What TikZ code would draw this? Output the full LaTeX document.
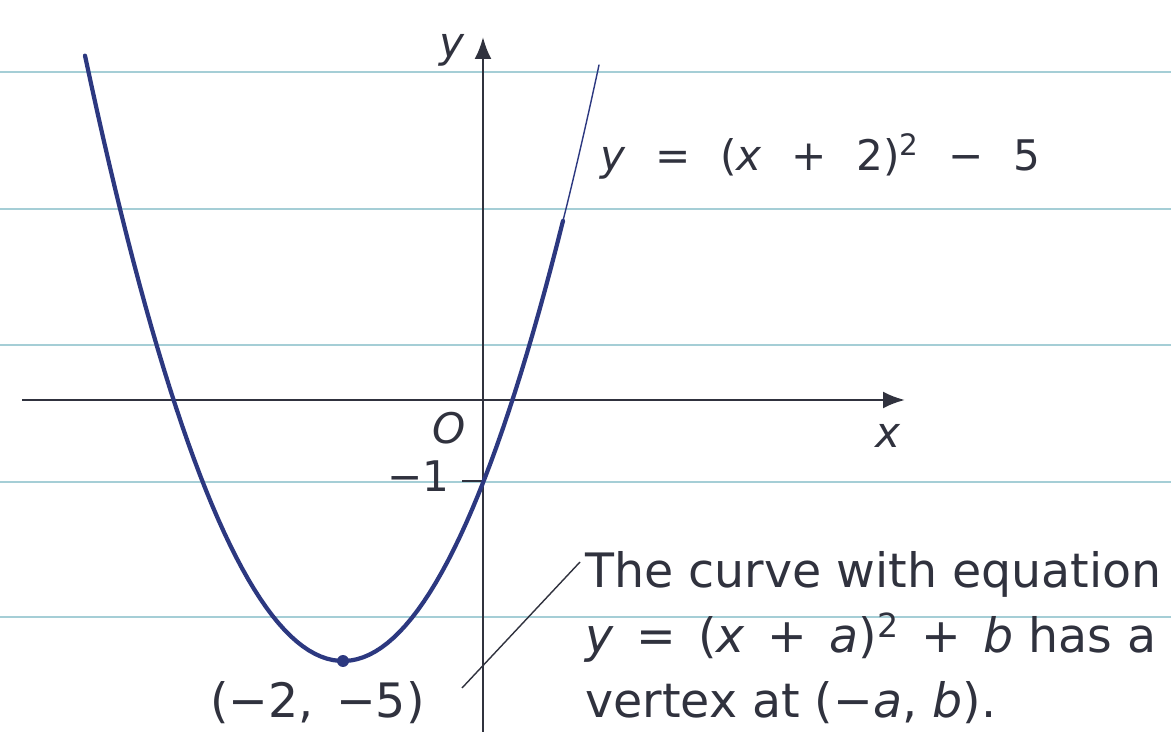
\documentclass[tikz,border=0pt]{standalone}
\usepackage{fontspec}
\setmainfont{DejaVu Sans}
\usetikzlibrary{arrows.meta}

\definecolor{rulecol}{RGB}{165,206,214}
\definecolor{curvecol}{RGB}{44,56,128}
\definecolor{inkcol}{RGB}{48,50,62}

% wide gaps used in the equations
\newcommand\eqsp{\hspace{0.7em}}
\newcommand\ntsp{\hspace{0.47em}}

\begin{document}
\begin{tikzpicture}[x=0.02cm, y=-0.02cm,
  rule/.style={draw=rulecol, line width=1.1pt},
  axis/.style={-{Latex[length=4.4mm,width=3.4mm]}, line width=1.5pt, draw=inkcol},
  curve/.style={draw=curvecol, line width=2.4pt, line cap=round, line join=round},
  lbl/.style={font=\fontsize{24}{30}\selectfont, text=inkcol, inner sep=0pt},
  note/.style={font=\fontsize{27}{37}\selectfont, text=inkcol, inner sep=0pt,
               align=left, anchor=base west}
]
% picture is laid out on the pixel grid of the page (y grows downwards)
\useasboundingbox (0,0) rectangle (1171,732);
\fill[white] (0,0) rectangle (1171,732);

% ruled paper
\foreach \ry in {72,209,345,482,617}
  \draw[rule] (0,\ry) -- (1171,\ry);

% axes
\draw[axis] (22,400) -- (905,400);
\draw[axis] (483,732) -- (483,37);
\draw[inkcol, line width=1pt] (462,481) -- (483,481);

\node[lbl] (ylbl) at (452,50) {\textit{y}};
\node[lbl] (xlbl) at (888,436) {\textit{x}};
\node[lbl] (orig) at (449,428) {\textit{O}};
\node[lbl, anchor=base east] (mone) at (450,492) {−1};

% the parabola, upper right end drawn thinner
\draw[curve] plot[domain=-258:220, samples=80]
  ({343+\x}, {661-0.0091*(\x)*(\x)});
\draw[draw=curvecol, line width=0.8pt, line cap=round]
  plot[domain=218:256, samples=15] ({343+\x}, {661-0.0091*(\x)*(\x)});

\coordinate (vtx) at (343,661);
\fill[curvecol] (vtx) circle (3.4pt);

\node[lbl, anchor=base west] (eqn) at (600,171)
  {\textit{y}\eqsp=\eqsp(\textit{x}\eqsp+\eqsp2)\textsuperscript{2}\eqsp−\eqsp5};
\node[lbl, font=\fontsize{27}{30}\selectfont, anchor=base west] (vlbl) at (210,718)
  {(−2,\ntsp−5)};

% base of a multi-line node is its last line
\node[note] (rule) at (585,718)
  {The curve with equation\\
   \textit{y}\ntsp=\ntsp(\textit{x}\ntsp+\ntsp\textit{a})\textsuperscript{2}\ntsp+\ntsp\textit{b} has a\\
   vertex at (−\textit{a}, \textit{b}).};

% leader from the vertex label to the note
\coordinate (lead1) at (462,688);
\coordinate (lead2) at (580,562);
\draw[inkcol, line width=0.8pt] (lead1) -- (lead2);
\end{tikzpicture}
\end{document}
